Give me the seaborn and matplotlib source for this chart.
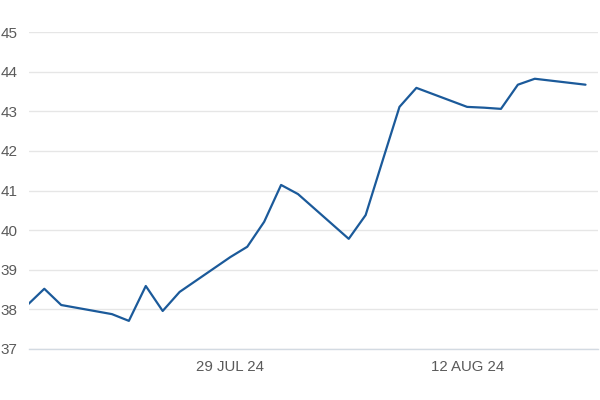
import pandas as pd
import matplotlib.pyplot as plt
import matplotlib.dates as mdates
import seaborn as sns

# daily closing values
dates = ["2024-07-17", "2024-07-18", "2024-07-19", "2024-07-22", "2024-07-23",
         "2024-07-24", "2024-07-25", "2024-07-26", "2024-07-29", "2024-07-30",
         "2024-07-31", "2024-08-01", "2024-08-02", "2024-08-05", "2024-08-06",
         "2024-08-07", "2024-08-08", "2024-08-09", "2024-08-12", "2024-08-13",
         "2024-08-14", "2024-08-15", "2024-08-16", "2024-08-19"]
values = [38.11, 38.52, 38.11, 37.88, 37.71,
          38.59, 37.96, 38.44, 39.32, 39.58,
          40.21, 41.14, 40.91, 39.78, 40.38,
          41.75, 43.11, 43.59, 43.11, 43.09,
          43.06, 43.67, 43.82, 43.67]
y_ticks = [37, 38, 39, 40, 41, 42, 43, 44, 45]
x_ticks = ["2024-07-29", "2024-08-12"]

df = pd.DataFrame({"date": pd.to_datetime(dates), "value": values})

sns.set_style("white")
plt.rcParams["font.family"] = ["Liberation Sans", "DejaVu Sans"]

fig = plt.figure(figsize=(6, 4), dpi=100)
ax = fig.add_axes([0.048, 0.1275, 0.949, 0.7925])

sns.lineplot(data=df, x="date", y="value", ax=ax, color="#1b5a9a", linewidth=1.6)

ax.set_ylim(37, 45)
ax.set_yticks(y_ticks)
ax.set_xlim(pd.Timestamp("2024-07-17 02:00"), pd.Timestamp("2024-08-19 18:00"))
ax.set_xticks(pd.to_datetime(x_ticks))
ax.xaxis.set_major_formatter(mdates.DateFormatter("%d %b %y"))
ax.set_xticklabels([pd.Timestamp(t).strftime("%d %b %y").upper() for t in x_ticks])

ax.grid(axis="y", color="#e6e6e6", linewidth=1)
ax.grid(axis="x", visible=False)
for s in ["top", "right", "left"]:
    ax.spines[s].set_visible(False)
ax.spines["bottom"].set_color("#d3dae2")
ax.spines["bottom"].set_linewidth(1)

ax.tick_params(axis="y", length=0, pad=8, labelsize=11, labelcolor="#5a5a5a")
ax.tick_params(axis="x", length=5, width=1, color="#d3dae2", pad=3,
               labelsize=10.8, labelcolor="#5a5a5a")
ax.set_xlabel("")
ax.set_ylabel("")

fig.savefig("out.png", dpi=100)
